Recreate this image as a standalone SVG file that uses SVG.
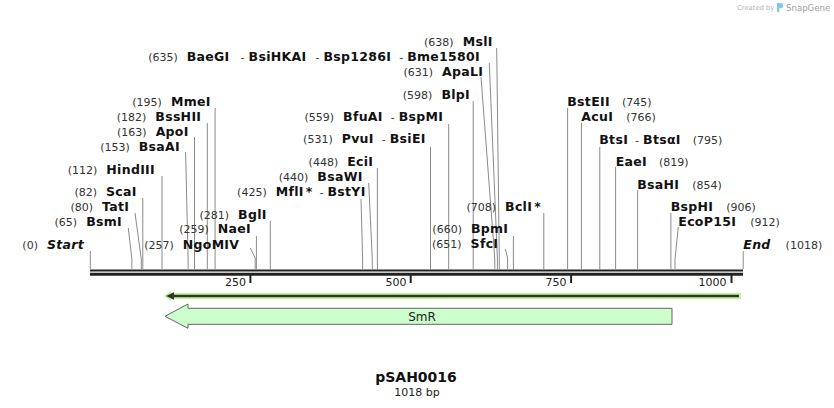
<svg xmlns="http://www.w3.org/2000/svg" width="834" height="408" viewBox="0 0 834 408">
<style>
text{font-family:"DejaVu Sans",Verdana,sans-serif}
.n{font-size:11px;font-weight:normal;fill:#333;letter-spacing:0}
.b{font-size:12.5px;font-weight:bold;fill:#111;letter-spacing:0.3px}
.bi{font-size:12.5px;font-weight:bold;font-style:italic;fill:#111;letter-spacing:0.3px}
.e{text-anchor:end}
.site{stroke:#8a8a8a;stroke-width:1;fill:none}
.tick{font-size:11px;fill:#222}
</style>
<rect width="834" height="408" fill="#fff"/>
<g id="watermark">
<text x="737" y="10" style="font-size:6.8px;fill:#b5b5b5">Created by</text>
<path d="M777,3 h3.5 a2.6,2.6 0 0 1 0,5.2 h-1.2 v4.6 l-2.3,-1.6 z" fill="#7cc8ef"/>
<text x="786" y="10.5" style="font-size:8.6px;fill:#a0a0a0">SnapGene</text>
</g>
<g id="ruler">
<line x1="90" y1="270.5" x2="743" y2="270.5" stroke="#222" stroke-width="2.2"/>
<line x1="90" y1="274.2" x2="743" y2="274.2" stroke="#222" stroke-width="3"/>
<g stroke="#222" stroke-width="2">
<line x1="250.4" y1="275" x2="250.4" y2="283"/>
<line x1="410.7" y1="275" x2="410.7" y2="283"/>
<line x1="571.1" y1="275" x2="571.1" y2="283"/>
<line x1="731.5" y1="275" x2="731.5" y2="283"/>
</g>
<text class="tick" x="246" y="286" text-anchor="end">250</text>
<text class="tick" x="406.5" y="286" text-anchor="end">500</text>
<text class="tick" x="566.5" y="286" text-anchor="end">750</text>
<text class="tick" x="726.5" y="286" text-anchor="end">1000</text>
</g>
<g id="feature-track">
<polygon points="164,296 171,290.8 171,292.7 741,292.7 741,299.2 171,299.2 171,301.2" fill="#c6f59c"/>
<line x1="739" y1="296" x2="172" y2="296" stroke="#333" stroke-width="2.3"/>
<polygon points="166,296 174,292.3 174,299.7" fill="#333"/>
</g>
<g id="SmR">
<polygon points="165,316.3 188,304 188,308.3 672,308.3 672,324.3 188,324.3 188,328.3" fill="#ccffcc" stroke="#666" stroke-width="1"/>
<text x="422" y="320.5" text-anchor="middle" style="font-size:12px;fill:#222">SmR</text>
</g>
<g id="connectors">
<polyline class="site" points="90.3,251 90.3,269"/>
<polyline class="site" points="128.3,228 131.9,259 131.9,269"/>
<polyline class="site" points="135,213 141.3,259 141.3,269"/>
<polyline class="site" points="142.8,198 142.8,269"/>
<polyline class="site" points="162,176 162,269"/>
<polyline class="site" points="185.6,152 188.1,259 188.1,269"/>
<polyline class="site" points="194.5,137 194.5,269"/>
<polyline class="site" points="207.3,123 207.3,269"/>
<polyline class="site" points="215.1,108 215.1,269"/>
<polyline class="site" points="250.3,248 255.2,258 255.2,269"/>
<polyline class="site" points="256.4,236 256.4,269"/>
<polyline class="site" points="270.3,221 270.3,269"/>
<polyline class="site" points="361,199 362.6,259 362.6,269"/>
<polyline class="site" points="368.7,183 372.3,259 372.3,269"/>
<polyline class="site" points="377.4,168 377.4,269"/>
<polyline class="site" points="430.5,147 430.5,269"/>
<polyline class="site" points="448.7,124 448.7,269"/>
<polyline class="site" points="473.2,101 473.2,269"/>
<polyline class="site" points="481,77 494.8,259 494.8,269"/>
<polyline class="site" points="489.3,63 497.4,259 497.4,269"/>
<polyline class="site" points="496.7,48 499.3,259 499.3,269"/>
<polyline class="site" points="505.3,249 507.6,258 507.6,269"/>
<polyline class="site" points="513.4,236 513.4,269"/>
<polyline class="site" points="543.8,213 543.8,269"/>
<polyline class="site" points="567.6,108 567.6,269"/>
<polyline class="site" points="581.4,123 581.4,269"/>
<polyline class="site" points="599.8,147 599.8,269"/>
<polyline class="site" points="615.6,167 615.6,269"/>
<polyline class="site" points="637.6,190 637.6,269"/>
<polyline class="site" points="670.9,213 670.9,269"/>
<polyline class="site" points="678.3,227 675,259 675,269"/>
<polyline class="site" points="743.2,251 743.2,269"/>
</g>
<g id="site-Start"><text class="e" x="84" y="249"><tspan class="n">(0)</tspan><tspan class="bi" dx="9">Start</tspan></text></g>
<g id="site-BsmI"><text class="e" x="122" y="225.5"><tspan class="n">(65)</tspan><tspan class="b" dx="9">BsmI</tspan></text></g>
<g id="site-TatI"><text class="e" x="129.3" y="210.7"><tspan class="n">(80)</tspan><tspan class="b" dx="9">TatI</tspan></text></g>
<g id="site-ScaI"><text class="e" x="136.7" y="195.7"><tspan class="n">(82)</tspan><tspan class="b" dx="9">ScaI</tspan></text></g>
<g id="site-HindIII"><text class="e" x="155" y="174"><tspan class="n">(112)</tspan><tspan class="b" dx="9">HindIII</tspan></text></g>
<g id="site-BsaAI"><text class="e" x="180" y="151"><tspan class="n">(153)</tspan><tspan class="b" dx="9">BsaAI</tspan></text></g>
<g id="site-ApoI"><text class="e" x="188.7" y="136"><tspan class="n">(163)</tspan><tspan class="b" dx="9">ApoI</tspan></text></g>
<g id="site-BssHII"><text class="e" x="201.3" y="121"><tspan class="n">(182)</tspan><tspan class="b" dx="9">BssHII</tspan></text></g>
<g id="site-MmeI"><text class="e" x="210.7" y="106"><tspan class="n">(195)</tspan><tspan class="b" dx="9">MmeI</tspan></text></g>
<g id="site-NgoMIV"><text class="e" x="239.3" y="248.7"><tspan class="n">(257)</tspan><tspan class="b" dx="9">NgoMIV</tspan></text></g>
<g id="site-NaeI"><text class="e" x="251" y="233.3"><tspan class="n">(259)</tspan><tspan class="b" dx="9">NaeI</tspan></text></g>
<g id="site-BglI"><text class="e" x="266.7" y="219"><tspan class="n">(281)</tspan><tspan class="b" dx="9">BglI</tspan></text></g>
<g id="site-MflI-BstYI"><text class="e" x="365.7" y="195.7"><tspan class="n">(425)</tspan><tspan class="b" dx="9">MflI</tspan><tspan class="b" dx="2">*</tspan><tspan class="n" dx="7">-</tspan><tspan class="b" dx="4">BstYI</tspan></text></g>
<g id="site-BsaWI"><text class="e" x="362.7" y="180.7"><tspan class="n">(440)</tspan><tspan class="b" dx="9">BsaWI</tspan></text></g>
<g id="site-EciI"><text class="e" x="373.3" y="166"><tspan class="n">(448)</tspan><tspan class="b" dx="9">EciI</tspan></text></g>
<g id="site-PvuI-BsiEI"><text class="e" x="425.7" y="143.3"><tspan class="n">(531)</tspan><tspan class="b" dx="9">PvuI</tspan><tspan class="n" dx="8">-</tspan><tspan class="b" dx="4">BsiEI</tspan></text></g>
<g id="site-BfuAI-BspMI"><text class="e" x="443.3" y="120.7"><tspan class="n">(559)</tspan><tspan class="b" dx="9">BfuAI</tspan><tspan class="n" dx="8">-</tspan><tspan class="b" dx="4">BspMI</tspan></text></g>
<g id="site-BlpI"><text class="e" x="470" y="99"><tspan class="n">(598)</tspan><tspan class="b" dx="9">BlpI</tspan></text></g>
<g id="site-ApaLI"><text class="e" x="483.3" y="75.7"><tspan class="n">(631)</tspan><tspan class="b" dx="9">ApaLI</tspan></text></g>
<g id="site-BaeGI"><text class="e" x="480" y="60.7"><tspan class="n">(635)</tspan><tspan class="b" dx="9">BaeGI</tspan><tspan class="n" dx="11">-</tspan><tspan class="b" dx="4">BsiHKAI</tspan><tspan class="n" dx="9">-</tspan><tspan class="b" dx="4">Bsp1286I</tspan><tspan class="n" dx="8">-</tspan><tspan class="b" dx="4">Bme1580I</tspan></text></g>
<g id="site-MslI"><text class="e" x="492.7" y="46"><tspan class="n">(638)</tspan><tspan class="b" dx="9">MslI</tspan></text></g>
<g id="site-SfcI"><text class="e" x="498.3" y="247.7"><tspan class="n">(651)</tspan><tspan class="b" dx="9">SfcI</tspan></text></g>
<g id="site-BpmI"><text class="e" x="508.3" y="233.3"><tspan class="n">(660)</tspan><tspan class="b" dx="9">BpmI</tspan></text></g>
<g id="site-BclI"><text class="e" x="541" y="211"><tspan class="n">(708)</tspan><tspan class="b" dx="9">BclI</tspan><tspan class="b" dx="2">*</tspan></text></g>
<g id="site-BstEII"><text x="567.3" y="106"><tspan class="b">BstEII</tspan><tspan class="n" dx="12">(745)</tspan></text></g>
<g id="site-AcuI"><text x="581.3" y="120.7"><tspan class="b">AcuI</tspan><tspan class="n" dx="13">(766)</tspan></text></g>
<g id="site-BtsI"><text x="599.3" y="144"><tspan class="b">BtsI</tspan><tspan class="n" dx="7">-</tspan><tspan class="b" dx="4">BtsαI</tspan><tspan class="n" dx="12">(795)</tspan></text></g>
<g id="site-EaeI"><text x="615.7" y="166"><tspan class="b">EaeI</tspan><tspan class="n" dx="12">(819)</tspan></text></g>
<g id="site-BsaHI"><text x="637.3" y="189.3"><tspan class="b">BsaHI</tspan><tspan class="n" dx="13">(854)</tspan></text></g>
<g id="site-BspHI"><text x="670.7" y="211"><tspan class="b">BspHI</tspan><tspan class="n" dx="13">(906)</tspan></text></g>
<g id="site-EcoP15I"><text x="678.3" y="226"><tspan class="b">EcoP15I</tspan><tspan class="n" dx="14">(912)</tspan></text></g>
<g id="site-End"><text x="743.3" y="249.3"><tspan class="bi">End</tspan><tspan class="n" dx="15">(1018)</tspan></text></g>
<g id="title">
<text x="416" y="382" text-anchor="middle" style="font-size:14px;font-weight:bold;fill:#111">pSAH0016</text>
<text x="417" y="395.5" text-anchor="middle" style="font-size:11px;fill:#222">1018 bp</text>
</g>
</svg>
